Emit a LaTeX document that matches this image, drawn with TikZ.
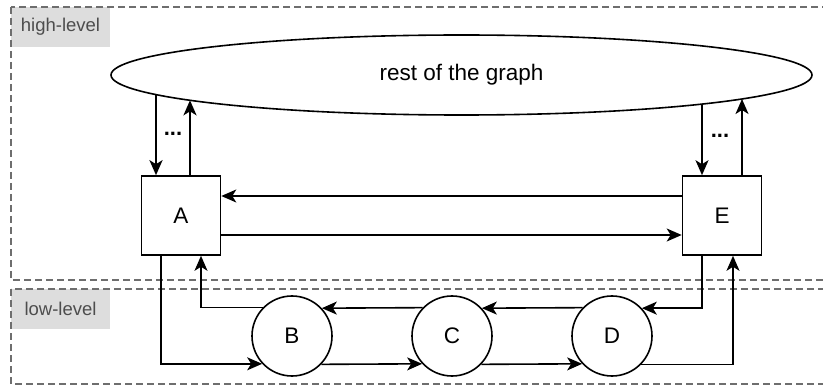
\documentclass[tikz,border=0pt]{standalone}
\usepackage{fontspec}
\setmainfont{Liberation Sans}
\usetikzlibrary{shapes.geometric,arrows.meta}
\definecolor{lblfill}{HTML}{DDDDDD}
\definecolor{lbltext}{HTML}{4D4D4D}
\definecolor{dashgray}{HTML}{6E6E6E}
\begin{document}
\begin{tikzpicture}[x=1pt,y=-1pt,
  container/.style={draw=dashgray,line width=1.4pt,dash pattern=on 7pt off 4pt},
  lblbox/.style={fill=lblfill,draw=none,minimum width=99pt,minimum height=40pt,inner sep=0pt,
    text=lbltext,font=\fontsize{18.5}{20}\selectfont},
  box/.style={draw,line width=1.6pt,minimum size=79pt,inner sep=0pt,font=\fontsize{22.5}{24}\selectfont},
  circ/.style={draw,circle,line width=1.6pt,minimum size=80pt,inner sep=0pt,font=\fontsize{22.5}{24}\selectfont},
  conn/.style={line width=1.6pt,-{Stealth[length=15pt,width=13pt,inset=4pt]}},
  thick conn/.style={line width=2.4pt,-{Stealth[length=15pt,width=13pt,inset=4pt]}},
  dots/.style={font=\fontsize{22}{24}\selectfont\bfseries,inner sep=0pt}]
\useasboundingbox (0,0) rectangle (823,385);
% containers
\node[lblbox] (hl) at (60.5,27) {high-level};
\node[lblbox] (ll) at (60.5,309) {low-level};
\draw[container] (11,7) rectangle (840,280);
\draw[container] (11,289) rectangle (840,384);
% nodes
\node[draw,ellipse,line width=1.6pt,minimum width=701pt,minimum height=80pt,inner sep=0pt,
  font=\fontsize{22.5}{24}\selectfont] (rest) at (461.5,75) {rest of the graph};
\node[box] (A) at (181,215.5) {A};
\node[box] (E) at (722,215.5) {E};
\node[circ] (B) at (292,336) {B};
\node[circ] (C) at (452,336) {C};
\node[circ] (D) at (612,336) {D};
% coordinates on the ellipse border
\coordinate (r1) at (156,94.6);
\coordinate (r2) at (190,100.3);
\coordinate (r3) at (702,104.1);
\coordinate (r4) at (742,99);
% helper coordinates
\coordinate (yEA) at (0,196);
\coordinate (yAE) at (0,235);
\coordinate (xA1) at (161,0);
\coordinate (xA2) at (201,0);
\coordinate (xE1) at (702,0);
\coordinate (xE2) at (733,0);
% ellipse <-> A, E
\draw[thick conn] (r1) -- (A.north -| r1);
\draw[thick conn] (A.north -| r2) -- (r2);
\draw[conn] (r3) -- (E.north -| r3);
\draw[conn] (E.north -| r4) -- (r4);
\node[dots] (d1) at (173,134) {...};
\node[dots] (d2) at (720,136) {...};
% A <-> E
\draw[conn] (E.west |- yEA) -- (A.east |- yEA);
\draw[conn] (A.east |- yAE) -- (E.west |- yAE);
% lower chain forward
\draw[conn] (A.south -| xA1) |- (B.223.7);
\draw[conn] (B.316.3) -- (C.223.7);
\draw[conn] (C.316.3) -- (D.223.7);
\draw[conn] (D.316.3) -| (E.south -| xE2);
% lower chain backward
\draw[conn] (E.south -| xE1) |- (D.43.7);
\draw[conn] (D.136.3) -- (C.43.7);
\draw[conn] (C.136.3) -- (B.43.7);
\draw[conn] (B.136.3) -| (A.south -| xA2);
\end{tikzpicture}
\end{document}
